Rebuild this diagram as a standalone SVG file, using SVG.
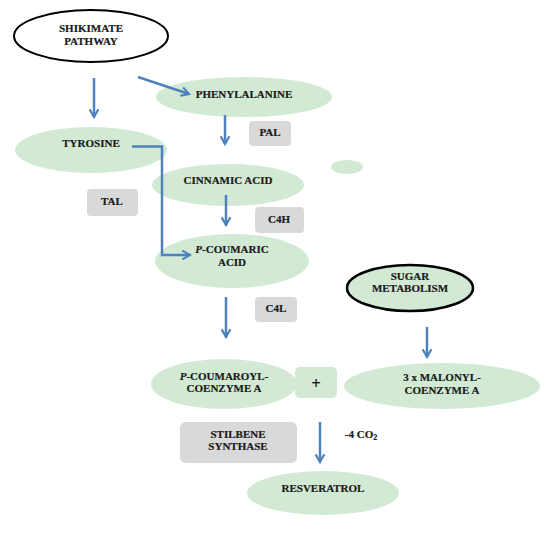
<svg xmlns="http://www.w3.org/2000/svg" width="550" height="534" viewBox="0 0 550 534">
<style>
.g{fill:#d2eAd4;stroke:none}
.box{fill:#d9d9d9;stroke:none}
.t{font-family:"Liberation Serif","Times New Roman",serif;font-weight:bold;font-size:11px;fill:#1a1a1a;text-anchor:middle;stroke:#1a1a1a;stroke-width:0.2}
.c path{fill:none;stroke:#4f81bd;stroke-width:2.5;marker-end:url(#ah)}
</style>
<defs>
<marker id="ah" viewBox="0 0 10 10" refX="8" refY="5" markerWidth="4.4" markerHeight="4.4" orient="auto" markerUnits="strokeWidth">
<path d="M1,1 L8,5 L1,9" fill="none" stroke="#4f81bd" stroke-width="2"/>
</marker>
</defs>
<rect width="550" height="534" fill="#fff"/>
<g id="shikimate"><ellipse cx="91" cy="36" rx="77" ry="26" fill="#fff" stroke="#000" stroke-width="2"/><text class="t" x="91" y="32">SHIKIMATE</text><text class="t" x="91" y="45">PATHWAY</text></g>
<g id="phenylalanine"><ellipse class="g" cx="244" cy="97" rx="88" ry="20"/><text class="t" x="244" y="98">PHENYLALANINE</text></g>
<g id="pal"><rect class="box" x="249" y="121" width="42" height="25" rx="4"/><text class="t" x="270" y="136">PAL</text></g>
<g id="tyrosine"><ellipse class="g" cx="91" cy="150" rx="76" ry="23"/><text class="t" x="91" y="147">TYROSINE</text></g>
<g id="cinnamic"><ellipse class="g" cx="228" cy="185" rx="76" ry="21"/><text class="t" x="228" y="184">CINNAMIC ACID</text></g>
<g id="dot"><ellipse class="g" cx="347" cy="167" rx="16" ry="7"/></g>
<g id="tal"><rect class="box" x="87" y="189" width="51" height="27" rx="4"/><text class="t" x="112" y="205">TAL</text></g>
<g id="c4h"><rect class="box" x="255" y="207" width="49" height="26" rx="4"/><text class="t" x="279" y="223">C4H</text></g>
<g id="pcoumaric"><ellipse class="g" cx="232" cy="261" rx="77" ry="27"/><text class="t" x="232" y="253"><tspan font-style="italic">P</tspan>-COUMARIC</text><text class="t" x="232" y="266">ACID</text></g>
<g id="sugar"><ellipse cx="410" cy="288" rx="63" ry="23" fill="#d2eAd4" stroke="#000" stroke-width="2.5"/><text class="t" x="410" y="280">SUGAR</text><text class="t" x="410" y="292">METABOLISM</text></g>
<g id="c4l"><rect class="box" x="255" y="297" width="42" height="25" rx="4"/><text class="t" x="276" y="312">C4L</text></g>
<g id="pcoumaroyl"><ellipse class="g" cx="224" cy="384" rx="73" ry="25"/><text class="t" x="224" y="380"><tspan font-style="italic">P</tspan>-COUMAROYL-</text><text class="t" x="224" y="392">COENZYME A</text></g>
<g id="plus"><rect class="g" x="295" y="367" width="42" height="31" rx="5"/><text class="t" x="316" y="389" style="font-size:16px">+</text></g>
<g id="malonyl"><ellipse class="g" cx="442" cy="386" rx="98" ry="23"/><text class="t" x="442" y="381">3 x MALONYL-</text><text class="t" x="442" y="394">COENZYME A</text></g>
<g id="stilbene"><rect class="box" x="180" y="422" width="117" height="41" rx="6"/><text class="t" x="238" y="438">STILBENE</text><text class="t" x="238" y="450">SYNTHASE</text></g>
<g id="co2"><text class="t" x="361" y="438">-4 CO<tspan style="font-size:8px" dy="2">2</tspan></text></g>
<g id="resveratrol"><ellipse class="g" cx="323" cy="493" rx="76" ry="22"/><text class="t" x="323" y="492">RESVERATROL</text></g>
<g id="connectors" class="c">
<path d="M94,78 V117"/>
<path d="M138,77 L189,94"/>
<path d="M225,115 V144"/>
<path d="M132,146.5 H162 V255 H190"/>
<path d="M226,195 V225"/>
<path d="M226,297 V337"/>
<path d="M427,327 V357"/>
<path d="M320,422 V462"/>
</g>
</svg>
